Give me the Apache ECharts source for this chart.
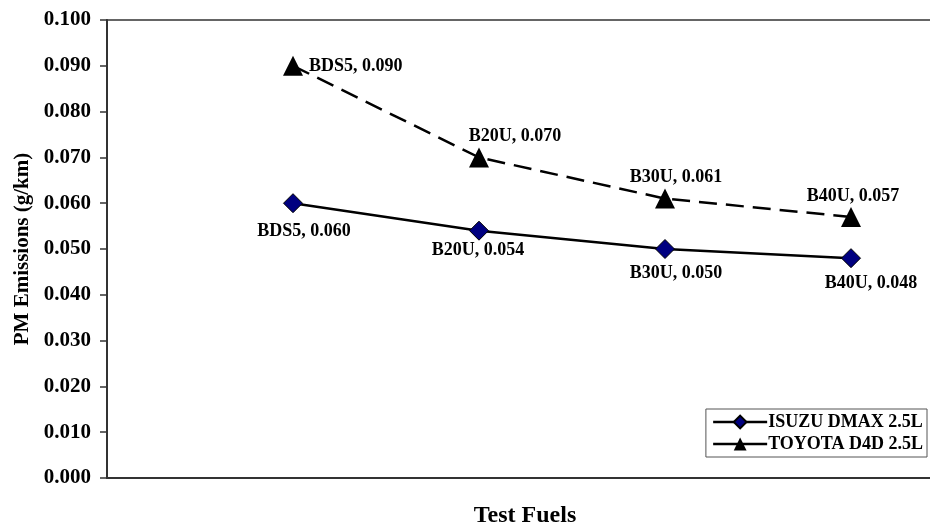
<!DOCTYPE html>
<html>
<head>
<meta charset="utf-8">
<script src="https://cdn.jsdelivr.net/npm/echarts@6/dist/echarts.min.js"></script>
<style>
  html, body { margin: 0; padding: 0; background: #fff; }
  #chart { width: 930px; height: 527px; }
</style>
</head>
<body>
<div id="chart"></div>
<script>
// Test fuels and PM emissions (g/km) for the two vehicles
const fuels = ['BDS5', 'B20U', 'B30U', 'B40U'];
const isuzu = [0.060, 0.054, 0.050, 0.048];
const toyota = [0.090, 0.070, 0.061, 0.057];
const yTicks = { min: 0, max: 0.1, interval: 0.01 };

const FONT = "'Liberation Serif', 'Times New Roman', serif";

// Label placement for each point: [position, [dx, dy]]
const isuzuLabels = [['bottom', [11, -1]], ['bottom', [-1, -9]], ['bottom', [11, -5]], ['bottom', [20, -4]]];
const toyotaLabels = [['right', [0, 1]], ['top', [36, 4]], ['top', [11, 4]], ['top', [2, 4]]];

function points(values, placements) {
  return values.map((v, i) => ({
    value: [i + 1, v],
    label: {
      position: placements[i][0],
      offset: placements[i][1],
      formatter: fuels[i] + ', ' + v.toFixed(3)
    }
  }));
}

const chart = echarts.init(document.getElementById('chart'), null, { renderer: 'canvas' });

const labelStyle = {
  show: true,
  color: '#000',
  fontFamily: FONT,
  fontWeight: 'bold',
  fontSize: 18
};

chart.setOption({
  animation: false,
  backgroundColor: '#fff',
  grid: {
    left: 107, top: 20, bottom: 49, right: -107,
    outerBoundsMode: 'none',
    show: true, borderColor: '#333', borderWidth: 1.5
  },
  xAxis: {
    type: 'value',
    min: 0, max: 5,
    axisLine: { show: true, lineStyle: { color: '#333', width: 2 } },
    axisTick: { show: false },
    axisLabel: { show: false },
    splitLine: { show: false }
  },
  yAxis: {
    type: 'value',
    min: yTicks.min, max: yTicks.max, interval: yTicks.interval,
    name: 'PM Emissions (g/km)',
    nameLocation: 'middle',
    nameGap: 73,
    nameTextStyle: { fontFamily: FONT, fontWeight: 'bold', fontSize: 21, color: '#000' },
    axisLine: { show: true, lineStyle: { color: '#333', width: 2 } },
    axisTick: { show: true, length: 7, lineStyle: { color: '#333', width: 1.5 } },
    axisLabel: {
      fontFamily: FONT, fontWeight: 'bold', fontSize: 21, color: '#000', margin: 16,
      formatter: v => v.toFixed(3)
    },
    splitLine: { show: false }
  },
  title: {
    text: 'Test Fuels',
    left: 520, top: 499,
    textAlign: 'center',
    textStyle: { fontFamily: FONT, fontWeight: 'bold', fontSize: 24, color: '#000' }
  },
  legend: {
    right: 3, bottom: 70,
    orient: 'vertical',
    backgroundColor: '#fff',
    borderColor: '#555', borderWidth: 1,
    padding: [4, 4, 4, 6],
    itemGap: 4,
    itemWidth: 54, itemHeight: 16,
    lineStyle: { type: 'solid', width: 2.5 },
    textStyle: { fontFamily: FONT, fontWeight: 'bold', fontSize: 18, color: '#000', padding: [0, 0, 0, -4] },
    data: ['ISUZU DMAX 2.5L', 'TOYOTA D4D 2.5L']
  },
  series: [
    {
      name: 'ISUZU DMAX 2.5L',
      type: 'line',
      data: points(isuzu, isuzuLabels),
      symbol: 'diamond',
      symbolSize: 19,
      lineStyle: { color: '#000', width: 2.5 },
      itemStyle: { color: '#000080', borderColor: '#000', borderWidth: 1 },
      label: Object.assign({ distance: 10 }, labelStyle),
      z: 3
    },
    {
      name: 'TOYOTA D4D 2.5L',
      type: 'line',
      data: points(toyota, toyotaLabels),
      symbol: 'triangle',
      symbolSize: 20,
      lineStyle: { color: '#000', width: 2.5, type: [18, 9] },
      itemStyle: { color: '#000' },
      label: Object.assign({ distance: 6 }, labelStyle),
      z: 4
    }
  ]
});
</script>
</body>
</html>
